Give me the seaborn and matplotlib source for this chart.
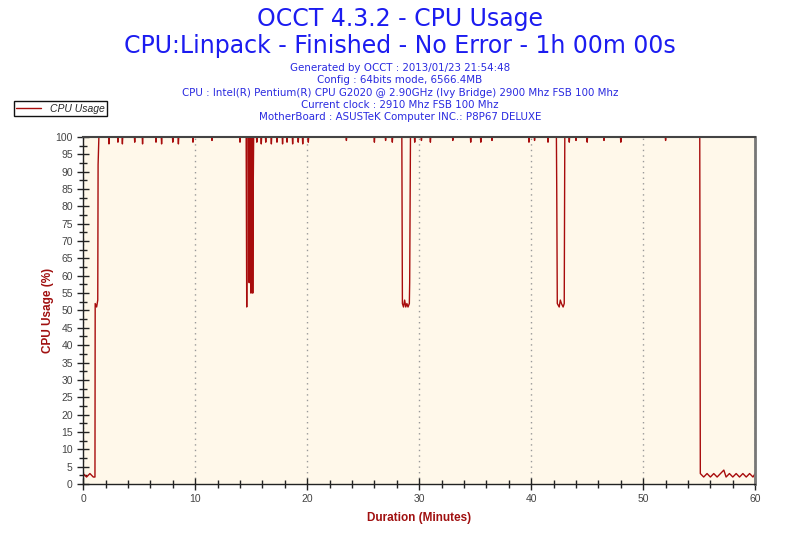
import matplotlib
matplotlib.use("Agg")
import matplotlib.pyplot as plt
import seaborn as sns
import pandas as pd
from matplotlib.ticker import MultipleLocator

# chart text
title_lines = ["OCCT 4.3.2 - CPU Usage",
               "CPU:Linpack - Finished - No Error - 1h 00m 00s"]
info_lines = ["Generated by OCCT : 2013/01/23 21:54:48",
              "Config : 64bits mode, 6566.4MB",
              "CPU : Intel(R) Pentium(R) CPU G2020 @ 2.90GHz (Ivy Bridge) 2900 Mhz FSB 100 Mhz",
              "Current clock : 2910 Mhz FSB 100 Mhz",
              "MotherBoard : ASUSTeK Computer INC.: P8P67 DELUXE"]
series_name = "CPU Usage"

# readings (minutes, %)
minutes = [
    0.00, 0.30, 0.60, 0.90, 1.05, 1.07, 1.20, 1.30, 1.33, 1.40,
    2.27, 2.30, 2.33, 3.07, 3.10, 3.13, 3.47, 3.50, 3.53, 4.57, 4.60, 4.63,
    5.27, 5.30, 5.33, 6.47, 6.50, 6.53, 6.97, 7.00, 7.03, 7.97, 8.00, 8.03,
    8.47, 8.50, 8.53, 9.77, 9.80, 9.83, 11.47, 11.50, 11.53, 13.97, 14.00, 14.03,
    14.55, 14.60, 14.64, 14.78, 14.82, 14.86, 14.90, 14.94, 14.98, 15.02,
    15.06, 15.10, 15.14, 15.18, 15.22,
    15.47, 15.50, 15.53, 15.87, 15.90, 15.93, 16.27, 16.30, 16.33,
    16.77, 16.80, 16.83, 17.27, 17.30, 17.33, 17.77, 17.80, 17.83,
    18.17, 18.20, 18.23, 18.67, 18.70, 18.73, 19.17, 19.20, 19.23,
    19.57, 19.60, 19.63, 20.07, 20.10, 20.13, 23.47, 23.50, 23.53,
    25.97, 26.00, 26.03, 26.97, 27.00, 27.03, 27.57, 27.60, 27.63,
    28.45, 28.50, 28.60, 28.70, 28.80, 28.90, 29.00, 29.12, 29.15, 29.22,
    29.57, 29.60, 29.63, 30.17, 30.20, 30.23, 30.97, 31.00, 31.03,
    32.97, 33.00, 33.03, 34.57, 34.60, 34.63, 35.47, 35.50, 35.53,
    36.47, 36.50, 36.53, 39.77, 39.80, 39.83, 40.27, 40.30, 40.33,
    41.47, 41.50, 41.53,
    42.25, 42.28, 42.33, 42.50, 42.60, 42.70, 42.85, 42.95, 43.00,
    43.37, 43.40, 43.43, 43.97, 44.00, 44.03, 44.97, 45.00, 45.03,
    46.47, 46.50, 46.53, 47.97, 48.00, 48.03, 51.97, 52.00, 52.03,
    55.05, 55.10, 55.40, 55.70, 56.00, 56.30, 56.60, 56.90, 57.20,
    57.40, 57.70, 58.00, 58.30, 58.60, 58.90, 59.20, 59.50, 59.80, 60.00,
]
usage = [
    3, 2, 3, 2, 2, 52, 51, 53, 92, 100,
    100, 98, 100, 100, 98.5, 100, 100, 98, 100, 100, 98.5, 100,
    100, 98, 100, 100, 98.5, 100, 100, 98, 100, 100, 98.5, 100,
    100, 98, 100, 100, 98.5, 100, 100, 99, 100, 100, 98.5, 100,
    100, 51, 100, 100, 58, 100, 60, 100, 55, 100,
    56, 100, 55, 85, 100,
    100, 98.5, 100, 100, 98, 100, 100, 98.5, 100,
    100, 98, 100, 100, 98.5, 100, 100, 98, 100,
    100, 98.5, 100, 100, 98, 100, 100, 98.5, 100,
    100, 98, 100, 100, 98.5, 100, 100, 99, 100,
    100, 98.5, 100, 100, 99, 100, 100, 98.5, 100,
    100, 52, 51, 53, 51, 52, 51, 52, 58, 100,
    100, 98.5, 100, 100, 99, 100, 100, 98.5, 100,
    100, 99, 100, 100, 98.5, 100, 100, 98.5, 100,
    100, 99, 100, 100, 98.5, 100, 100, 99, 100,
    100, 98.5, 100,
    100, 85, 52, 51, 53, 52, 51, 52, 100,
    100, 98.5, 100, 100, 99, 100, 100, 98.5, 100,
    100, 99, 100, 100, 98.5, 100, 100, 99, 100,
    100, 3, 2, 3, 2, 3, 2, 3, 4,
    2, 3, 2, 3, 2, 3, 2, 3, 2, 3,
]

df = pd.DataFrame({"Duration": minutes, "Usage": usage})

sns.set_style("white")
plt.rcParams["font.family"] = ["Liberation Sans", "DejaVu Sans"]

fig = plt.figure(figsize=(8, 5.33), dpi=100)
ax = fig.add_axes([0.104, 0.092, 0.84, 0.651])
ax.set_facecolor("#fff8ea")

sns.lineplot(data=df, x="Duration", y="Usage", ax=ax, color="#a80c0c",
             linewidth=1.0, sort=False, label=series_name, estimator=None)

ax.set_xlim(0, 60)
ax.set_ylim(0, 100)
ax.xaxis.set_major_locator(MultipleLocator(10))
ax.xaxis.set_minor_locator(MultipleLocator(2))
ax.yaxis.set_major_locator(MultipleLocator(5))
ax.yaxis.set_minor_locator(MultipleLocator(2.5))
ax.tick_params(which="both", bottom=True, left=True, top=False, right=False)
ax.tick_params(which="major", direction="inout", length=8, width=1,
               color="#222222", labelsize=7.5, labelcolor="#444444")
ax.tick_params(which="minor", direction="inout", length=6, width=1,
               color="#222222")
ax.tick_params(axis="x", pad=3)
ax.grid(axis="x", which="major", color="#999999", linestyle=(0, (1, 3)),
        linewidth=1)

for side in ["left", "bottom"]:
    ax.spines[side].set_color("#222222")
    ax.spines[side].set_linewidth(1)
ax.spines["top"].set_color("#444444")
ax.spines["top"].set_linewidth(1.5)
ax.spines["right"].set_color("#777777")
ax.spines["right"].set_linewidth(2)

ax.set_xlabel("Duration (Minutes)", color="#a01010", fontsize=8.5,
              fontweight="bold", labelpad=6)
ax.set_ylabel("CPU Usage (%)", color="#a01010", fontsize=8.5,
              fontweight="bold", labelpad=1)

leg = ax.legend(loc="upper left", bbox_to_anchor=(0.017, 0.81),
                bbox_transform=fig.transFigure, fancybox=False,
                edgecolor="#111111", framealpha=1, borderpad=0.25,
                handlelength=2.4, handletextpad=0.8, borderaxespad=0,
                prop={"size": 7.5, "style": "italic"})
leg.get_frame().set_linewidth(1)

fig.text(0.5, 1 - 19 / 533, title_lines[0], ha="center", va="center",
         color="#1c1cf0", fontsize=17, family="DejaVu Sans")
fig.text(0.5, 1 - 46 / 533, title_lines[1], ha="center", va="center",
         color="#1c1cf0", fontsize=17, family="DejaVu Sans")
for i, line in enumerate(info_lines):
    fig.text(0.5, 1 - (68 + 12.3 * i) / 533, line, ha="center", va="center",
             color="#2a2ae0", fontsize=7.4, family="DejaVu Sans")

fig.savefig("out.png", dpi=100, facecolor="white")
